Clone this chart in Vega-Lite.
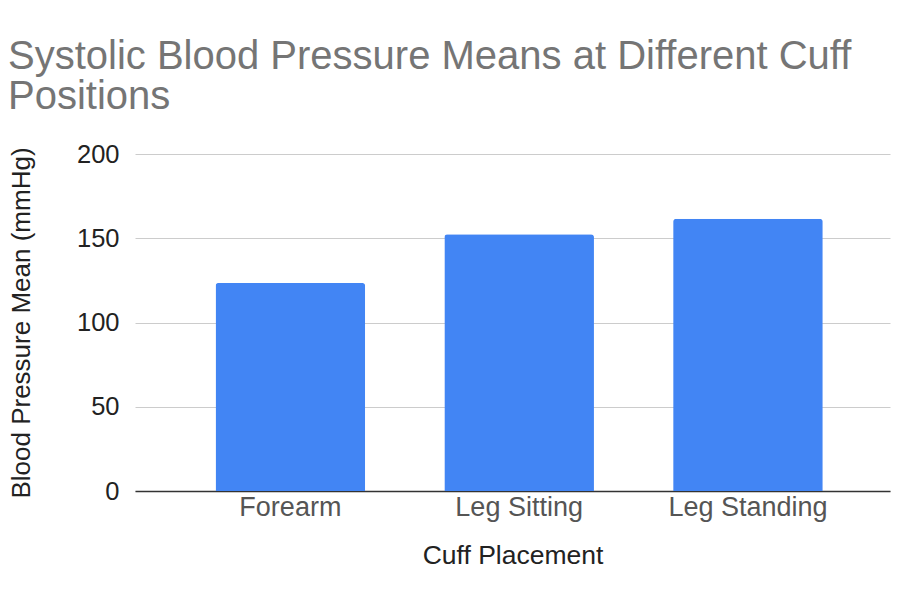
{
  "$schema": "https://vega.github.io/schema/vega-lite/v6.json",
  "autosize": "none",
  "width": 755,
  "height": 337,
  "padding": {"left": 135, "top": 154, "right": 19, "bottom": 115},
  "background": "white",
  "config": {
    "font": "Liberation Sans",
    "view": {"stroke": null}
  },
  "title": {
    "text": ["Systolic Blood Pressure Means at Different Cuff", "Positions"],
    "anchor": "start",
    "frame": "group",
    "dx": -127,
    "offset": 25,
    "fontSize": 40,
    "lineHeight": 40,
    "fontWeight": "normal",
    "color": "#757575",
    "font": "Liberation Sans"
  },
  "data": {
    "values": [
      {"placement": "Forearm", "mean": 123.5},
      {"placement": "Leg Sitting", "mean": 152.3},
      {"placement": "Leg Standing", "mean": 161.5}
    ]
  },
  "mark": {
    "type": "bar",
    "color": "#4285F4",
    "cornerRadiusTopLeft": 3,
    "cornerRadiusTopRight": 3
  },
  "encoding": {
    "x": {
      "field": "placement",
      "type": "nominal",
      "sort": null,
      "title": "Cuff Placement",
      "scale": {"paddingInner": 0.346, "paddingOuter": 0.323, "align": 0.545},
      "axis": {
        "labelAngle": 0,
        "ticks": false,
        "domainColor": "#333333",
        "domainWidth": 1.3,
        "labelFontSize": 27,
        "labelColor": "#555555",
        "labelPadding": 3,
        "titleFontSize": 26.5,
        "titleFontWeight": "normal",
        "titleColor": "#222222",
        "titlePadding": 22
      }
    },
    "y": {
      "field": "mean",
      "type": "quantitative",
      "title": "Blood Pressure Mean (mmHg)",
      "scale": {"domain": [0, 200]},
      "axis": {
        "values": [0, 50, 100, 150, 200],
        "domain": false,
        "ticks": false,
        "gridColor": "#cccccc",
        "gridWidth": 1,
        "labelFontSize": 25.5,
        "labelColor": "#222222",
        "labelPadding": 16,
        "titleFontSize": 26,
        "titleFontWeight": "normal",
        "titleColor": "#222222",
        "titlePadding": 42
      }
    }
  }
}
